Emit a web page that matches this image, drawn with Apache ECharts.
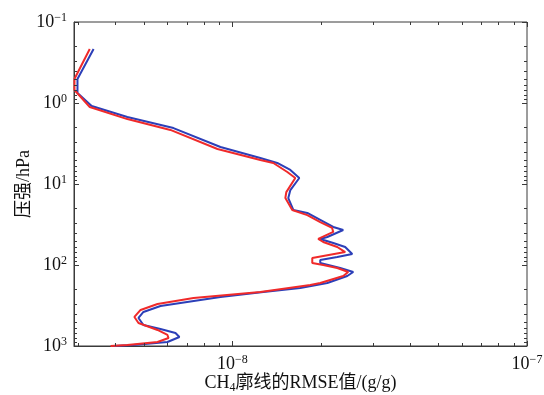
<!DOCTYPE html>
<html>
<head>
<meta charset="utf-8">
<script src="https://cdn.jsdelivr.net/npm/echarts@6/dist/echarts.min.js"></script>
<style>
  html, body { margin: 0; padding: 0; background: #fff; }
  #chart { width: 544px; height: 395px; }
</style>
</head>
<body>
<div id="chart"></div>
<script>
// CH4 profile RMSE (g/g) versus pressure level (hPa), two retrieval runs

const bluePressure = [0.215, 0.505, 0.752, 1.09, 1.49, 2.04, 3.49, 4.78, 5.50, 6.71, 8.43, 11.9, 14.9, 20.9, 22.8, 27.8, 33.9, 37.0, 45.1, 47.7, 53.5, 59.9, 73.2, 79.6, 86.7, 94.4, 108.9, 121.9, 136.7, 166.8, 192, 215, 248, 321, 380, 451, 550, 617, 691, 775, 893, 972, 1000];
const blueRmse = [3.38e-9, 2.98e-9, 2.98e-9, 3.33e-9, 4.40e-9, 6.31e-9, 9.11e-9, 1.244e-8, 1.42e-8, 1.573e-8, 1.687e-8, 1.573e-8, 1.548e-8, 1.61e-8, 1.796e-8, 1.987e-8, 2.20e-8, 2.378e-8, 2.10e-8, 1.987e-8, 2.20e-8, 2.415e-8, 2.552e-8, 2.27e-8, 1.987e-8, 1.987e-8, 2.323e-8, 2.572e-8, 2.454e-8, 2.10e-8, 1.70e-8, 1.274e-8, 9.11e-9, 5.70e-9, 4.99e-9, 4.80e-9, 4.99e-9, 5.70e-9, 6.41e-9, 6.61e-9, 6.02e-9, 4.62e-9, 3.95e-9];

const redPressure = [0.215, 0.505, 0.691, 1.12, 1.58, 2.15, 3.70, 5.05, 5.50, 7.11, 8.43, 12.6, 14.9, 20.9, 24.2, 29.5, 34.9, 39.1, 47.7, 52.0, 59.9, 69.2, 73.2, 82.1, 94.4, 100, 108.9, 121.9, 136.7, 166.8, 176.6, 215, 255, 303, 359, 438, 520, 634, 731, 797, 893, 972, 1000];
const redRmse = [3.28e-9, 2.91e-9, 2.91e-9, 3.28e-9, 4.40e-9, 6.16e-9, 8.90e-9, 1.244e-8, 1.377e-8, 1.536e-8, 1.635e-8, 1.524e-8, 1.513e-8, 1.597e-8, 1.796e-8, 1.987e-8, 2.18e-8, 2.20e-8, 1.956e-8, 2.034e-8, 2.27e-8, 2.415e-8, 2.378e-8, 1.867e-8, 1.867e-8, 2.034e-8, 2.27e-8, 2.473e-8, 2.378e-8, 1.987e-8, 1.838e-8, 1.244e-8, 7.38e-9, 5.57e-9, 4.88e-9, 4.65e-9, 4.80e-9, 5.57e-9, 6.02e-9, 6.07e-9, 5.57e-9, 4.40e-9, 3.86e-9];

// Decade exponents that carry a "10^n" label
const xTickExponents = [-8, -7];
const yTickExponents = [-1, 0, 1, 2, 3];

const xRange = [2.9e-9, 1e-7];
const yRange = [0.1, 1000];

const FONT = "'Liberation Serif', 'Times New Roman', 'Noto Sans CJK SC', serif";
const AXIS_COLOR = '#3a3a3a';

function toPairs(xs, ps) { return xs.map((v, i) => [v, ps[i]]); }

function powerLabel(exps) {
  return function (value) {
    const lg = Math.log10(value);
    const e = Math.round(lg);
    if (Math.abs(lg - e) > 1e-6 || exps.indexOf(e) < 0) return '';
    const sup = e < 0 ? '\u2212' + (-e) : String(e);
    return '{b|10}{s|' + sup + '}';
  };
}

const powerRich = {
  b: { fontFamily: FONT, fontSize: 18, color: '#111', lineHeight: 20 },
  s: { fontFamily: FONT, fontSize: 12, color: '#111', lineHeight: 12, verticalAlign: 'top' }
};

const chart = echarts.init(document.getElementById('chart'), null, { renderer: 'canvas' });

const option = {
  animation: false,
  backgroundColor: '#fff',
  grid: {
    left: 74, right: 17, top: 22, bottom: 49,
    outerBoundsMode: 'none',
    containLabel: false,
    show: true, borderColor: AXIS_COLOR, borderWidth: 1, backgroundColor: 'transparent'
  },
  xAxis: {
    type: 'log',
    logBase: 10,
    min: xRange[0],
    max: xRange[1],
    name: '{t|CH}{sub|4}{t|廓线的RMSE值/(g/g)}',
    nameLocation: 'middle',
    nameGap: 26,
    nameMoveOverlap: false,
    nameTextStyle: {
      rich: {
        t: { fontFamily: FONT, fontSize: 18, color: '#111', lineHeight: 22 },
        sub: { fontFamily: FONT, fontSize: 12, color: '#111', lineHeight: 12, verticalAlign: 'bottom' }
      }
    },
    axisLine: { show: true, lineStyle: { color: AXIS_COLOR, width: 1 } },
    axisTick: { show: false },
    splitLine: { show: false },
    minorTick: { show: false },
    axisLabel: { formatter: powerLabel(xTickExponents), rich: powerRich, margin: 8, showMinLabel: true, showMaxLabel: true, hideOverlap: false }
  },
  yAxis: {
    type: 'log',
    logBase: 10,
    inverse: true,
    min: yRange[0],
    max: yRange[1],
    name: '压强/hPa',
    nameLocation: 'middle',
    nameGap: 41,
    nameMoveOverlap: false,
    nameTextStyle: { fontFamily: FONT, fontSize: 18, color: '#111' },
    axisLine: { show: true, lineStyle: { color: AXIS_COLOR, width: 1 } },
    axisTick: { show: false },
    splitLine: { show: false },
    minorTick: { show: false },
    axisLabel: { formatter: powerLabel(yTickExponents), rich: powerRich, margin: 7, showMinLabel: true, showMaxLabel: true, hideOverlap: false }
  },
  series: [
    {
      name: 'blue',
      type: 'line',
      data: toPairs(blueRmse, bluePressure),
      showSymbol: false,
      symbol: 'none',
      lineStyle: { color: '#2c3fb8', width: 2 },
      z: 2
    },
    {
      name: 'red',
      type: 'line',
      data: toPairs(redRmse, redPressure),
      showSymbol: false,
      symbol: 'none',
      lineStyle: { color: '#f02a2a', width: 2 },
      z: 3
    }
  ]
};

chart.setOption(option);

// Inward major and minor ticks on all four sides of the box, placed through the axis scales
function drawTicks() {
  const elements = [];
  const left = chart.convertToPixel({ xAxisIndex: 0 }, xRange[0]);
  const right = chart.convertToPixel({ xAxisIndex: 0 }, xRange[1]);
  const top = chart.convertToPixel({ yAxisIndex: 0 }, yRange[0]);
  const bottom = chart.convertToPixel({ yAxisIndex: 0 }, yRange[1]);
  const style = { stroke: AXIS_COLOR, lineWidth: 1 };

  function push(x1, y1, x2, y2) {
    elements.push({ type: 'line', silent: true, z: 10, shape: { x1, y1, x2, y2 }, style });
  }

  for (let d = -9; d <= -7; d++) {
    for (let m = 1; m <= 9; m++) {
      const v = m * Math.pow(10, d);
      if (v < xRange[0] * 0.9999 || v > xRange[1] * 1.0001) continue;
      const px = Math.round(chart.convertToPixel({ xAxisIndex: 0 }, v)) + 0.5;
      const len = m === 1 ? 5 : 3;
      push(px, bottom, px, bottom - len);
      push(px, top, px, top + len);
    }
  }
  for (let d = -1; d <= 3; d++) {
    for (let m = 1; m <= 9; m++) {
      const v = m * Math.pow(10, d);
      if (v < yRange[0] * 0.9999 || v > yRange[1] * 1.0001) continue;
      const py = Math.round(chart.convertToPixel({ yAxisIndex: 0 }, v)) + 0.5;
      const len = m === 1 ? 5 : 3;
      push(left, py, left + len, py);
      push(right, py, right - len, py);
    }
  }
  chart.setOption({ graphic: { elements } });
}

drawTicks();
</script>
</body>
</html>
